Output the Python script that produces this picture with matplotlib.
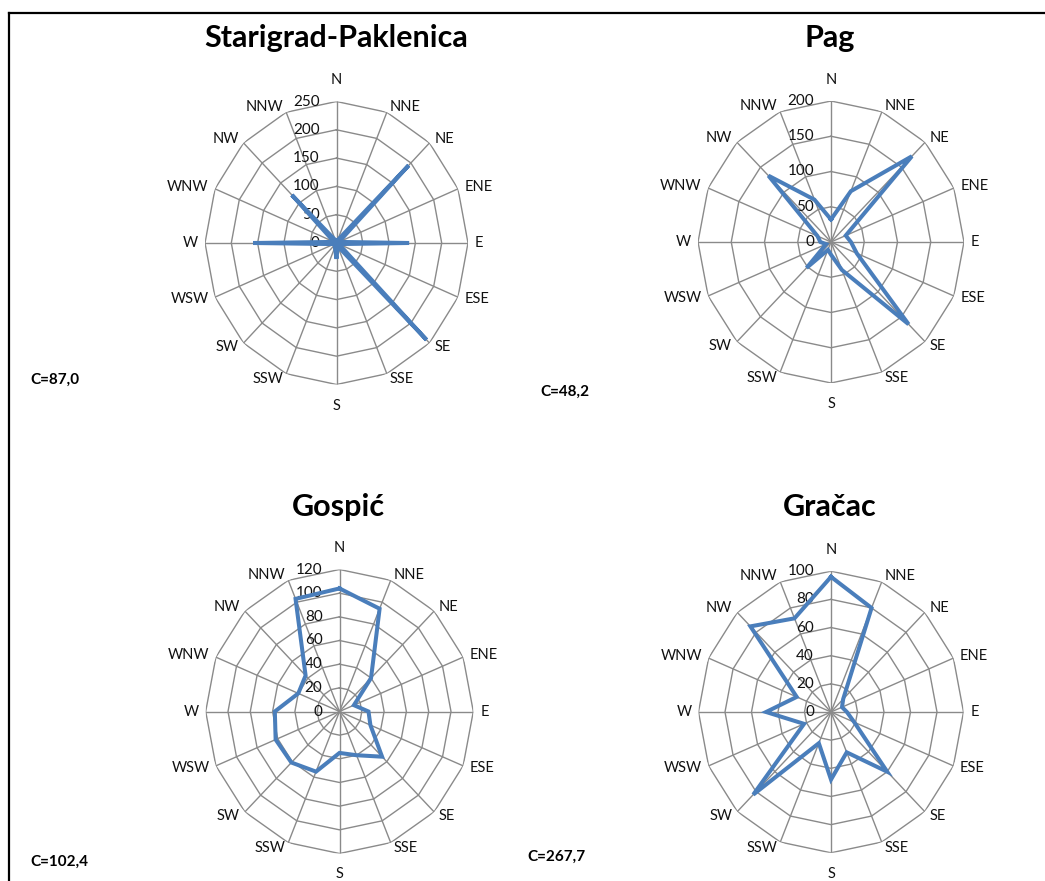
import numpy as np
import matplotlib
matplotlib.use("Agg")
import matplotlib.pyplot as plt
from matplotlib.lines import Line2D

plt.rcParams['font.family'] = ['Lato', 'DejaVu Sans']

directions = ["N", "NNE", "NE", "ENE", "E", "ESE", "SE", "SSE",
              "S", "SSW", "SW", "WSW", "W", "WNW", "NW", "NNW"]

starigrad = [5, 5, 194, 5, 138, 5, 242, 6, 28, 8, 5, 5, 158, 5, 120, 5]
pag = [32, 78, 172, 24, 30, 42, 165, 43, 18, 12, 52, 8, 16, 22, 133, 65]
gospic = [104, 94, 40, 14, 26, 30, 54, 40, 35, 55, 61, 62, 58, 40, 43, 103]
gracac = [96, 80, 13, 9, 12, 19, 60, 31, 48, 24, 83, 22, 49, 28, 86, 72]

titles = ["Starigrad-Paklenica", "Pag", "Gospić", "Gračac"]
calms = ["C=87,0", "C=48,2", "C=102,4", "C=267,7"]
ring_steps = [50, 50, 20, 20]
ring_max = [250, 200, 120, 100]

W, H = 1045, 881
# centre x, centre y, radius x, radius y (pixels)
boxes = [(336.5, 243, 131.5, 141.5), (831, 242, 133, 141),
         (339.5, 711.5, 133.8, 142), (831, 712, 132.5, 140.8)]
title_pos = [(336, 38), (830, 38), (338, 507), (830, 507)]
calm_pos = [(30, 380), (540, 392), (30, 862), (527, 857)]

line_blue = "#4a7ebb"
grid_gray = "#8a8a8a"

fig = plt.figure(figsize=(W / 100, H / 100), dpi=100)

series = [starigrad, pag, gospic, gracac]
angles = np.arange(16) * 2 * np.pi / 16

for i in range(4):
    cx, cy, rx, ry = boxes[i]
    ax = fig.add_axes([(cx - rx) / W, 1 - (cy + ry) / H, 2 * rx / W, 2 * ry / H],
                      projection='polar')
    ax.set_aspect('auto')
    ax.set_theta_zero_location('N')
    ax.set_theta_direction(-1)
    ax.set_ylim(0, ring_max[i])
    ax.grid(False)
    ax.set_xticks([])
    ax.set_yticks([])
    ax.spines['polar'].set_visible(False)
    ax.patch.set_alpha(0)

    closed = np.append(angles, angles[0])
    rings = np.arange(ring_steps[i], ring_max[i] + 1, ring_steps[i])
    for r in rings:
        ax.plot(closed, [r] * 17, color=grid_gray, lw=1.0, zorder=1)
    for a in angles:
        ax.plot([a, a], [0, ring_max[i]], color=grid_gray, lw=1.0, zorder=1)

    vals = series[i]
    ax.plot(closed, vals + vals[:1], color=line_blue, lw=2.9, zorder=3,
            solid_joinstyle='miter')

    for r in np.append([0], rings):
        ax.annotate(str(int(r)), xy=(0, r), xytext=(-17, 0),
                    textcoords='offset pixels', ha='right', va='center',
                    fontsize=11, color='#111111', zorder=2)

    for a, lab in zip(angles, directions):
        s, c = np.sin(a), np.cos(a)
        if abs(s) < 0.1:
            ha = 'center'
            dx, dy = 0, 21 * np.sign(c)
        else:
            ha = 'left' if s > 0 else 'right'
            dx, dy = 7 * s, 6 * c
        ax.annotate(lab, xy=(a, ring_max[i]), xytext=(dx, dy),
                    textcoords='offset pixels', ha=ha, va='center',
                    fontsize=10.5, color='#111111', annotation_clip=False)

    tx, ty = title_pos[i]
    fig.text(tx / W, 1 - ty / H, titles[i], ha='center', va='center',
             fontsize=22, fontweight='bold')
    qx, qy = calm_pos[i]
    fig.text(qx / W, 1 - qy / H, calms[i], ha='left', va='center',
             fontsize=11, fontweight='bold')

# frame of the original figure (top and left edges)
fig.add_artist(Line2D([9 / W, 1], [1 - 13 / H, 1 - 13 / H], color='black', lw=1.6))
fig.add_artist(Line2D([9 / W, 9 / W], [0, 1 - 13 / H], color='black', lw=1.6))

fig.savefig("out.png", dpi=100)
